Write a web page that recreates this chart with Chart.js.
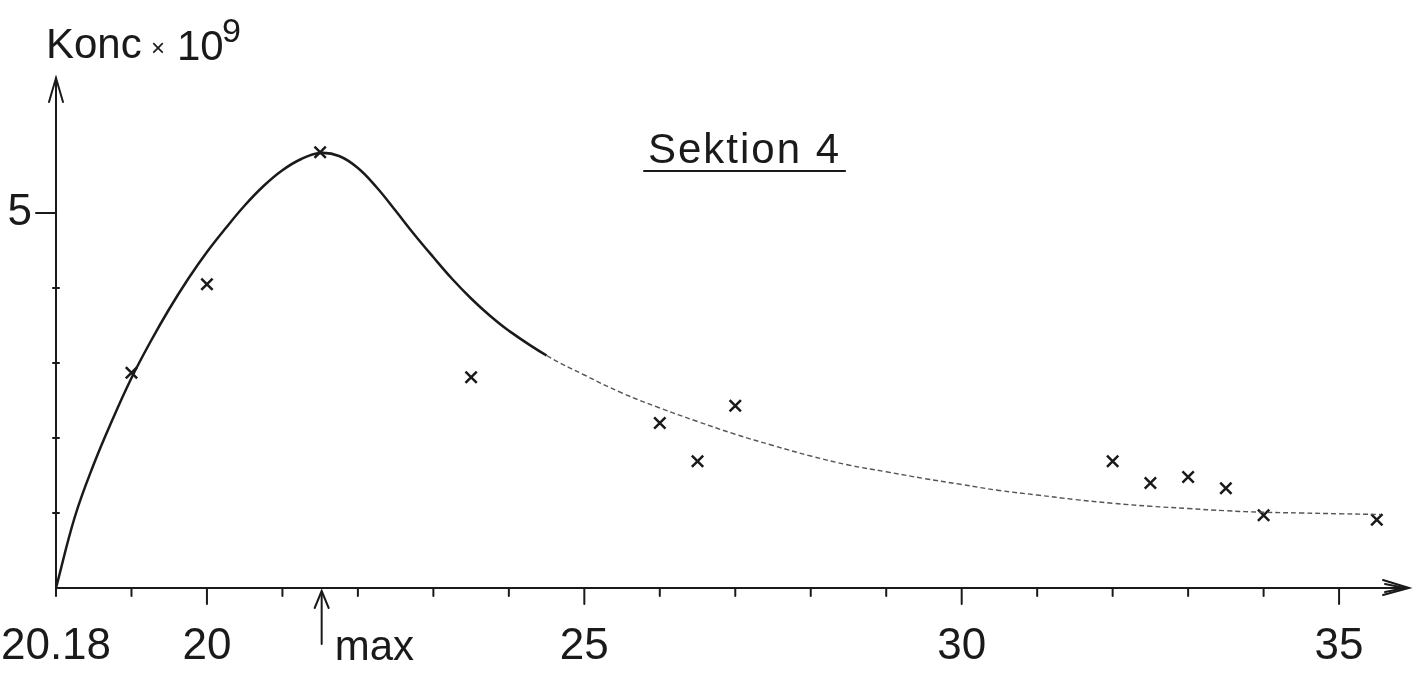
<!DOCTYPE html>
<html><head><meta charset="utf-8">
<script src="https://cdn.jsdelivr.net/npm/chart.js@4.4.1/dist/chart.umd.min.js"></script>
<style>html,body{margin:0;padding:0;background:#fff;overflow:hidden}canvas{display:block}</style>
</head><body>
<canvas id="c" width="1423" height="686"></canvas>
<script>
// fitted curve
const curveX = [18.0, 18.25, 18.5, 18.75, 19.0, 19.25, 19.5, 19.75, 20.0, 20.25, 20.5, 20.75, 21.0, 21.25, 21.5, 21.75, 22.0, 22.25, 22.5, 22.75, 23.0, 23.25, 23.5, 23.75, 24.0, 24.5, 25.0, 25.5, 26.0, 26.5, 27.0, 27.5, 28.0, 28.5, 29.0, 29.5, 30.0, 30.5, 31.0, 31.5, 32.0, 32.5, 33.0, 33.5, 34.0, 34.5, 35.0, 35.55];
const curveY = [0.0, 0.95, 1.65, 2.25, 2.8, 3.28, 3.72, 4.12, 4.48, 4.8, 5.1, 5.36, 5.57, 5.72, 5.8, 5.76, 5.6, 5.34, 5.03, 4.71, 4.41, 4.12, 3.86, 3.63, 3.43, 3.1, 2.84, 2.6, 2.4, 2.22, 2.05, 1.9, 1.76, 1.64, 1.55, 1.46, 1.38, 1.3, 1.24, 1.18, 1.13, 1.09, 1.06, 1.03, 1.01, 1.0, 0.99, 0.98];
// measured samples (x marks)
const sampleX = [19.0, 20.0, 21.5, 23.5, 26.0, 26.5, 27.0, 32.0, 32.5, 33.0, 33.5, 34.0, 35.5];
const sampleY = [2.87, 4.05, 5.81, 2.81, 2.2, 1.69, 2.43, 1.69, 1.4, 1.48, 1.33, 0.97, 0.91];
// ticks
const xTickValues = [18,19,20,21,22,23,24,25,26,27,28,29,30,31,32,33,34,35];
const xLabelValues = [18, 20, 25, 30, 35];
const xLabelTexts = ['20.18', '20', '25', '30', '35'];
const yTickValues = [1, 2, 3, 4, 5];
const yLabelValues = [5];
const yLabelTexts = ['5'];
const maxX = 21.52;
const maxText = 'max';
const titleText = 'Sektion 4';
const yTitleMain = 'Konc';
const yTitleTimes = '×';
const yTitleBase = '10';
const yTitleExp = '9';

const INK = '#1a1a1a';
const FONT = '"Liberation Sans", Arial, sans-serif';

const decor = {
  id: 'decor',
  afterDraw(chart) {
    const ctx = chart.ctx, xs = chart.scales.x, ys = chart.scales.y;
    const x0 = xs.left, y0 = ys.bottom;
    ctx.save();
    ctx.strokeStyle = INK; ctx.fillStyle = INK; ctx.lineCap = 'round';
    // x ticks
    xTickValues.forEach(v => {
      const px = xs.getPixelForValue(v);
      const major = xLabelValues.includes(v) && v !== xs.min;
      ctx.lineWidth = 2;
      ctx.beginPath(); ctx.moveTo(px, y0); ctx.lineTo(px, y0 + (major ? 16 : 8)); ctx.stroke();
    });
    // y ticks
    yTickValues.forEach(v => {
      const py = ys.getPixelForValue(v);
      const major = yLabelValues.includes(v);
      ctx.lineWidth = 2;
      ctx.beginPath();
      if (major) { ctx.moveTo(x0 - 20, py); ctx.lineTo(x0, py); }
      else { ctx.moveTo(x0 - 3, py); ctx.lineTo(x0 + 3, py); }
      ctx.stroke();
    });
    // arrowheads
    ctx.lineWidth = 2;
    const ty = ys.top;
    ctx.beginPath(); ctx.moveTo(x0 - 7, ty + 24); ctx.lineTo(x0, ty); ctx.lineTo(x0 + 7, ty + 24); ctx.stroke();
    const tx = xs.right;
    ctx.beginPath(); ctx.moveTo(tx - 24, y0 - 8); ctx.lineTo(tx + 2, y0); ctx.lineTo(tx - 24, y0 + 7); ctx.stroke();
    ctx.beginPath(); ctx.moveTo(tx - 22, y0 - 4); ctx.lineTo(tx - 2, y0); ctx.lineTo(tx - 22, y0 + 4); ctx.stroke();
    // max arrow
    const mx = xs.getPixelForValue(maxX);
    ctx.lineWidth = 2;
    ctx.beginPath(); ctx.moveTo(mx, y0 + 4); ctx.lineTo(mx, y0 + 56); ctx.stroke();
    ctx.beginPath(); ctx.moveTo(mx - 7, y0 + 20); ctx.lineTo(mx, y0 + 3); ctx.lineTo(mx + 7, y0 + 20); ctx.stroke();
    ctx.font = '42px ' + FONT;
    ctx.textBaseline = 'alphabetic'; ctx.textAlign = 'left';
    ctx.fillText(maxText, mx + 13, 660);
    // title
    ctx.font = '42px ' + FONT;
    ctx.letterSpacing = '2px';
    ctx.fillText(titleText, 648, 163);
    const tw = ctx.measureText(titleText).width;
    ctx.letterSpacing = '0px';
    ctx.lineWidth = 2;
    ctx.beginPath(); ctx.moveTo(644, 171); ctx.lineTo(648 + tw + 4, 171); ctx.stroke();
    // y title
    ctx.font = '42px ' + FONT;
    ctx.fillText(yTitleMain, 46, 58);
    ctx.font = '24px ' + FONT;
    ctx.fillText(yTitleTimes, 151, 56);
    ctx.font = '42px ' + FONT;
    ctx.fillText(yTitleBase, 177, 60);
    ctx.font = '34px ' + FONT;
    ctx.fillText(yTitleExp, 222, 42);
    ctx.restore();
  }
};

new Chart(document.getElementById('c'), {
  type: 'scatter',
  data: {
    datasets: [
      {
        label: 'Kurve',
        data: curveX.map((x, i) => ({ x, y: curveY[i] })),
        showLine: true,
        borderColor: INK,
        borderWidth: 2.5,
        pointRadius: 0,
        tension: 0.4,
        segment: {
          borderWidth: c => (c.p0.parsed.x >= 24.4 ? 1.4 : 2.5),
          borderColor: c => (c.p0.parsed.x >= 24.4 ? '#555' : INK),
          borderDash: c => (c.p0.parsed.x >= 24.4 ? [5, 3] : [])
        }
      },
      {
        label: 'Prøver',
        data: sampleX.map((x, i) => ({ x, y: sampleY[i] })),
        pointStyle: 'crossRot',
        pointRadius: 8,
        pointBorderWidth: 2.5,
        borderColor: INK,
        backgroundColor: INK,
        showLine: false
      }
    ]
  },
  options: {
    responsive: false,
    animation: false,
    layout: { padding: { top: 78, right: 16, left: 0, bottom: 0 } },
    plugins: { legend: { display: false }, tooltip: { enabled: false }, title: { display: false } },
    scales: {
      x: {
        type: 'linear', min: 18, max: 35.9,
        afterFit: s => { s.height = 98; s.paddingLeft = 0; s.paddingRight = 0; },
        afterBuildTicks: s => { s.ticks = xTickValues.map(v => ({ value: v })); },
        grid: { display: true, drawOnChartArea: false, drawTicks: false },
        border: { display: true, color: INK, width: 2 },
        ticks: {
          autoSkip: false, maxRotation: 0, padding: 32, color: INK,
          font: { family: FONT, size: 44 },
          callback: v => { const i = xLabelValues.indexOf(v); return i >= 0 ? xLabelTexts[i] : ''; }
        }
      },
      y: {
        type: 'linear', min: 0, max: 6.8,
        afterFit: s => { s.width = 56; s.paddingTop = 0; s.paddingBottom = 0; },
        afterBuildTicks: s => { s.ticks = yTickValues.map(v => ({ value: v })); },
        grid: { display: true, drawOnChartArea: false, drawTicks: false },
        border: { display: true, color: INK, width: 2 },
        ticks: {
          autoSkip: false, padding: 24, color: INK,
          font: { family: FONT, size: 44 },
          callback: v => { const i = yLabelValues.indexOf(v); return i >= 0 ? yLabelTexts[i] : ''; }
        }
      }
    }
  },
  plugins: [decor]
});
</script>
</body></html>
